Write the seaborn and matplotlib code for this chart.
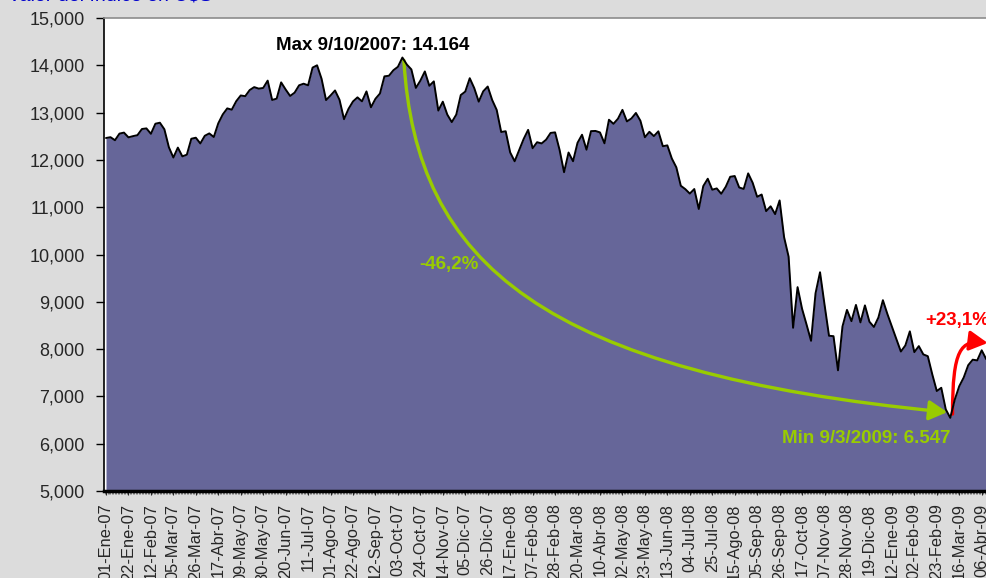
import numpy as np
import pandas as pd
import matplotlib
matplotlib.use("Agg")
import matplotlib.pyplot as plt
from matplotlib.path import Path
from matplotlib.patches import FancyArrowPatch
from matplotlib.ticker import FuncFormatter, MultipleLocator
import seaborn as sns

# one tick label every 15 trading days
tick_labels = ["01-Ene-07", "22-Ene-07", "12-Feb-07", "05-Mar-07", "26-Mar-07", "17-Abr-07",
               "09-May-07", "30-May-07", "20-Jun-07", "11-Jul-07", "01-Ago-07", "22-Ago-07",
               "12-Sep-07", "03-Oct-07", "24-Oct-07", "14-Nov-07", "05-Dic-07", "26-Dic-07",
               "17-Ene-08", "07-Feb-08", "28-Feb-08", "20-Mar-08", "10-Abr-08", "02-May-08",
               "23-May-08", "13-Jun-08", "04-Jul-08", "25-Jul-08", "15-Ago-08", "05-Sep-08",
               "26-Sep-08", "17-Oct-08", "07-Nov-08", "28-Nov-08", "19-Dic-08", "12-Ene-09",
               "02-Feb-09", "23-Feb-09", "16-Mar-09", "06-Abr-09"]

# index value, one reading every 3 trading days (5 per tick label)
dow = [12463, 12480, 12416, 12556, 12577,
       12477, 12502, 12523, 12653, 12666,
       12552, 12765, 12786, 12647, 12268,
       12050, 12260, 12075, 12110, 12447,
       12469, 12348, 12510, 12560, 12484,
       12773, 12961, 13089, 13062, 13241,
       13362, 13347, 13477, 13539, 13507,
       13521, 13676, 13267, 13295, 13639,
       13489, 13352, 13422, 13577, 13611,
       13577, 13951, 14000, 13716, 13265,
       13362, 13468, 13270, 12861, 13079,
       13236, 13322, 13238, 13448, 13113,
       13292, 13403, 13766, 13779, 13896,
       13968, 14164, 14015, 13913, 13522,
       13675, 13870, 13567, 13660, 13043,
       13231, 12958, 12799, 12958, 13371,
       13444, 13727, 13518, 13232, 13450,
       13551, 13265, 13057, 12590, 12606,
       12159, 11971, 12207, 12442, 12635,
       12247, 12374, 12348, 12427, 12570,
       12582, 12213, 11740, 12156, 11972,
       12361, 12532, 12216, 12608, 12612,
       12581, 12351, 12849, 12763, 12870,
       13058, 12814, 12876, 12992, 12828,
       12479, 12594, 12503, 12604, 12289,
       12307, 12029, 11843, 11453, 11382,
       11288, 11384, 10962, 11446, 11602,
       11370, 11397, 11284, 11431, 11643,
       11659, 11417, 11386, 11715, 11516,
       11220, 11268, 10917, 11019, 10854,
       11143, 10365, 9955, 8451, 9310,
       8852, 8519, 8175, 9180, 9625,
       8943, 8282, 8273, 7552, 8479,
       8829, 8591, 8934, 8565, 8924,
       8579, 8468, 8668, 9034, 8742,
       8474, 8212, 7949, 8077, 8375,
       7936, 8063, 7888, 7850, 7465,
       7114, 7182, 6726, 6547, 6930,
       7216, 7400, 7660, 7776, 7761,
       7975, 7789, 8083]

step = 3
df = pd.DataFrame({"pos": np.arange(len(dow)) * step, "close": dow})

sns.set_style("white")
plt.rcParams["font.family"] = ["Liberation Sans", "DejaVu Sans"]

fig = plt.figure(figsize=(9.86, 5.78), dpi=100, facecolor="#DCDCDC")
ax = fig.add_axes([104 / 986, 87 / 578, 900 / 986, 473 / 578])
ax.set_facecolor("white")

ax.fill_between(df["pos"], 5000, df["close"], color="#666699", lw=0)
sns.lineplot(data=df, x="pos", y="close", color="black", lw=1.4, ax=ax)

ax.set_xlim(-1.34, 599.9)
ax.set_ylim(5000, 15000)
ax.set_xlabel("")
ax.set_ylabel("")

ax.set_yticks(range(5000, 15001, 1000))
ax.yaxis.set_major_formatter(FuncFormatter(lambda v, p: f"{v:,.0f}"))
ax.set_xticks(np.arange(len(tick_labels)) * 15)
ax.set_xticklabels(tick_labels, rotation=90)
ax.xaxis.set_minor_locator(MultipleLocator(1))

ax.tick_params(axis="y", direction="out", length=6, width=1, color="black",
               labelsize=13, pad=8, left=True)
ax.tick_params(axis="x", which="major", direction="out", length=3, width=0.8,
               labelsize=11.8, pad=6, bottom=True)
ax.tick_params(axis="x", which="minor", direction="out", length=2, width=0.4, bottom=True)

ax.spines["left"].set_color("black")
ax.spines["left"].set_linewidth(1.2)
ax.spines["bottom"].set_color("black")
ax.spines["bottom"].set_linewidth(2.5)
ax.spines["top"].set_color("#8C8C8C")
ax.spines["top"].set_linewidth(1.2)
ax.spines["right"].set_visible(False)

# max / min from the data
imax = int(np.argmax(dow))
imin = int(np.argmin(dow))
xmax, vmax = imax * step, dow[imax]
xmin, vmin = imin * step, dow[imin]

green = "#99CC00"
red = "#FF0000"

p_green = Path([(xmax + 1, vmax - 60), (xmax + 9, 9800), (292, 7500), (xmin - 2, vmin + 120)],
               [Path.MOVETO, Path.CURVE4, Path.CURVE4, Path.CURVE4])
ax.add_patch(FancyArrowPatch(path=p_green, arrowstyle="-|>,head_length=0.55,head_width=0.3",
                             mutation_scale=20, color=green, lw=2.4))

p_red = Path([(xmin + 1.5, vmin + 80), (xmin + 1.5, 8000), (xmin + 7, 8200), (xmin + 25, 8130)],
             [Path.MOVETO, Path.CURVE4, Path.CURVE4, Path.CURVE4])
ax.add_patch(FancyArrowPatch(path=p_red, arrowstyle="-|>,head_length=0.55,head_width=0.3",
                             mutation_scale=20, color=red, lw=2.4))

ax.text(xmax - 20, vmax + 265, "Max 9/10/2007: 14.164", ha="center", va="center",
        fontsize=13.5, fontweight="bold", color="black")
ax.text(xmin - 56, vmin - 430, "Min 9/3/2009: 6.547", ha="center", va="center",
        fontsize=13.5, fontweight="bold", color=green)
ax.text(229, 9780, "-46,2%", ha="center", va="center",
        fontsize=13.5, fontweight="bold", color=green)
ax.text(547, 8615, "+23,1%", ha="left", va="center",
        fontsize=13.5, fontweight="bold", color=red)

fig.text(0.008, 1.0, "Valor del índice en U$S", ha="left", va="baseline",
         fontsize=14, color="#0000CC")

fig.savefig("out.png", dpi=100, facecolor=fig.get_facecolor())
